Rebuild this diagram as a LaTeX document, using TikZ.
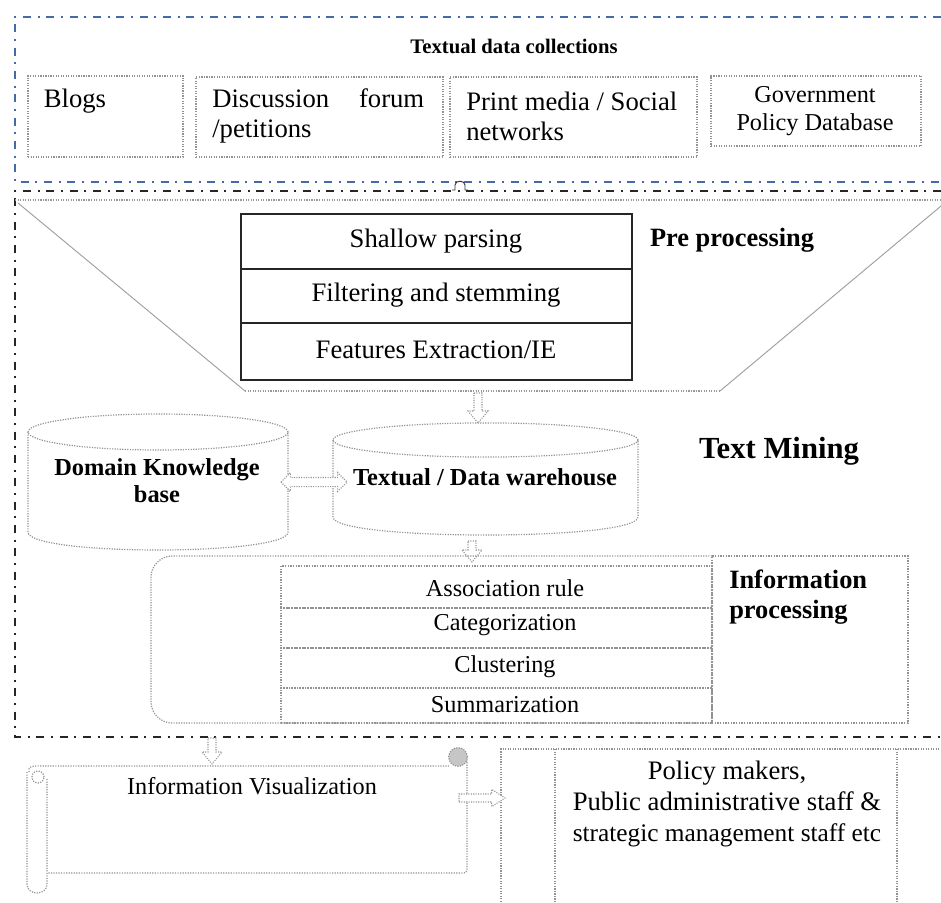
\documentclass[tikz,border=0pt]{standalone}
\usepackage{fontspec}
\setmainfont{Liberation Serif}
\usetikzlibrary{fit,calc}
\definecolor{dashblue}{RGB}{70,105,170}
\tikzset{
  dbox/.style={draw=gray!85, densely dotted, line width=0.9pt},
  solidrow/.style={draw=black!85, line width=1pt, inner sep=0pt},
  dotrow/.style={draw=gray!85, densely dotted, line width=1pt, inner sep=0pt},
  boxfit/.style={dbox, inner sep=0pt},
  ddline/.style={dash pattern=on 6pt off 5pt on 1.5pt off 5pt},
  barrow/.style={draw=gray!85, densely dotted, line width=0.8pt, fill=white},
  txt/.style={inner sep=0pt, font=\fontsize{20}{22.5}\selectfont},
  txtm/.style={inner sep=0pt, font=\fontsize{18.2}{21}\selectfont},
  txtb/.style={inner sep=0pt, font=\bfseries\fontsize{18.3}{20.3}\selectfont},
}
\newcommand\downblock[2]{\path[barrow] let \p1=(#1), \p2=(#2) in (\x1-3pt,\y1) -- (\x1+3pt,\y1) -- (\x1+3pt,\y2+9pt) -- (\x1+7.5pt,\y2+9pt) -- (\x1,\y2) -- (\x1-7.5pt,\y2+9pt) -- (\x1-3pt,\y2+9pt) -- cycle;}
\newcommand\rightblock[2]{\path[barrow] let \p1=(#1), \p2=(#2) in (\x1,\y1-3pt) -- (\x2-10pt,\y1-3pt) -- (\x2-10pt,\y1-6.5pt) -- (\x2,\y1) -- (\x2-10pt,\y1+6.5pt) -- (\x2-10pt,\y1+3pt) -- (\x1,\y1+3pt) -- cycle;}
\newcommand\twoblock[2]{\path[barrow] let \p1=(#1), \p2=(#2) in (\x1,\y1) -- (\x1+7pt,\y1+7pt) -- (\x1+7pt,\y1+3.4pt) -- (\x2-7pt,\y1+3.4pt) -- (\x2-7pt,\y1+7pt) -- (\x2,\y1) -- (\x2-7pt,\y1-7pt) -- (\x2-7pt,\y1-3.4pt) -- (\x1+7pt,\y1-3.4pt) -- (\x1+7pt,\y1-7pt) -- cycle;}
\begin{document}
\begin{tikzpicture}[x=0.75pt,y=-0.75pt]
\useasboundingbox[fill=white] (0,0) rectangle (941,902);

% outer dash-dot frames
\draw[dashblue, line width=1.2pt, ddline] (941,17) -- (15,17) -- (15,182) -- (941,182);
\draw[black!85, line width=1.7pt, ddline] (941,191) -- (15,191) -- (15,737) -- (941,737);
\draw[black!80, line width=0.7pt] (452,190) -- (455,190) -- (455,185) .. controls (455,180) and (465,180) .. (465,185) -- (465,190) -- (468,190);

% Textual data collections
\node[inner sep=0pt, font=\bfseries\fontsize{15.5}{18}\selectfont] (tdc) at (514,46) {Textual data collections};
\node[boxfit, fit={(28,76)(183,157)}] (blogsbox) {};
\node[boxfit, fit={(196,77)(443,157)}] (discbox) {};
\node[boxfit, fit={(450,77)(697,157)}] (printbox) {};
\node[boxfit, fit={(711,76)(921,146)}] (govbox) {};
\node[txt] (blogs) at (75,101) {Blogs};
\node[txt, anchor=west, text width=159pt, align=left] (disc) at (212,116) {Discussion\hfill forum\\/petitions};
\node[txt, anchor=west, align=left] (print) at (466,116) {Print media / Social\\networks};
\node[txtm, align=center, font=\fontsize{18.2}{21}\selectfont] (gov) at (815,111) {Government\\Policy Database};

% Pre processing funnel
\draw[gray!80, densely dotted, line width=0.9pt] (15,200) -- (941,200);
\draw[gray!75, line width=0.7pt] (18,203) -- (245,391);
\draw[gray!80, densely dotted, line width=0.9pt] (245,391) -- (720,391);
\draw[gray!75, line width=0.7pt] (720,391) -- (941,206);
\node[solidrow, fit={(241,214)(632,269)}] (r1) {};
\node[solidrow, fit={(241,269)(632,323)}] (r2) {};
\node[solidrow, fit={(241,323)(632,380)}] (r3) {};
\node[txt] (t1) at (436,241) {Shallow parsing};
\node[txt] (t2) at (436,295) {Filtering and stemming};
\node[txt] (t3) at (436,350) {Features Extraction/IE};
\node[inner sep=0pt, font=\bfseries\fontsize{19.8}{22}\selectfont] (pre) at (732,240) {Pre processing};

% cylinders
\draw[dbox] (28,432) -- (28,532) .. controls (28,556) and (288,556) .. (288,532) -- (288,432);
\draw[dbox] (158,432) ellipse[x radius=97.5pt, y radius=13.5pt];
\node[txtb, align=center] (dkb) at (157,481) {Domain Knowledge\\base};
\draw[dbox] (333,440) -- (333,517) .. controls (333,541) and (638,541) .. (638,517) -- (638,440);
\draw[dbox] (485.5,440) ellipse[x radius=114.4pt, y radius=12.8pt];
\node[txtb] (dw) at (485,477) {Textual / Data warehouse};
\node[inner sep=0pt, font=\bfseries\fontsize{23}{26}\selectfont] (tm) at (779,451) {Text Mining};

% arrows
\coordinate (a1s) at (478,393); \coordinate (a1e) at (478,423);
\downblock{a1s}{a1e}
\coordinate (a5s) at (281,482); \coordinate (a5e) at (347,482);
\twoblock{a5s}{a5e}
\coordinate (a2s) at (472,541); \coordinate (a2e) at (472,562);
\downblock{a2s}{a2e}

% Information processing
\draw[dbox, rounded corners=16pt] (712,556) -- (151,556) -- (151,723) -- (712,723);
\node[dotrow, fit={(712,556)(908,723)}] (ipbox) {};
\node[dotrow, fit={(281,566)(712,608)}] (p1) {};
\node[dotrow, fit={(281,608)(712,648)}] (p2) {};
\node[dotrow, fit={(281,648)(712,688)}] (p3) {};
\node[dotrow, fit={(281,688)(712,723)}] (p4) {};
\node[txtm] (ar) at (505,588) {Association rule};
\node[txtm] (cat) at (505,625) {Categorization};
\node[txtm] (clu) at (505,667) {Clustering};
\node[txtm] (sum) at (505,705) {Summarization};
\node[inner sep=0pt, anchor=west, align=left, font=\bfseries\fontsize{19.8}{22.5}\selectfont] (ip) at (729,597) {Information\\processing};

% Information visualization scroll
\coordinate (a3s) at (212,738); \coordinate (a3e) at (212,764);
\draw[dbox] (29,772) .. controls (29,767) .. (35,766) -- (449,766);
\draw[dbox] (467,757) -- (467,866) .. controls (467,873) .. (460,873) -- (47,873);
\draw[dbox] (27,772) -- (27,884) .. controls (27,896) and (47,896) .. (47,884) -- (47,778);
\draw[dbox] (38,777) circle[radius=4.5pt];
\draw[dbox, fill=gray!45] (458,757) circle[radius=7pt];
\downblock{a3s}{a3e}
\node[txtm] (iv) at (252,786) {Information Visualization};

% Policy makers box
\draw[dbox] (501,902) -- (501,749) -- (941,749);
\draw[dbox] (555,749) -- (555,902);
\draw[dbox] (897,749) -- (897,902);
\node[inner sep=0pt, align=center, font=\fontsize{20}{23.25}\selectfont] (pm) at (727,804) {Policy makers,\\Public administrative staff \&\\{\fontsize{19}{23.25}\selectfont strategic management staff etc}};
\coordinate (a4s) at (459,798); \coordinate (a4e) at (505,798);
\rightblock{a4s}{a4e}
\end{tikzpicture}
\end{document}
